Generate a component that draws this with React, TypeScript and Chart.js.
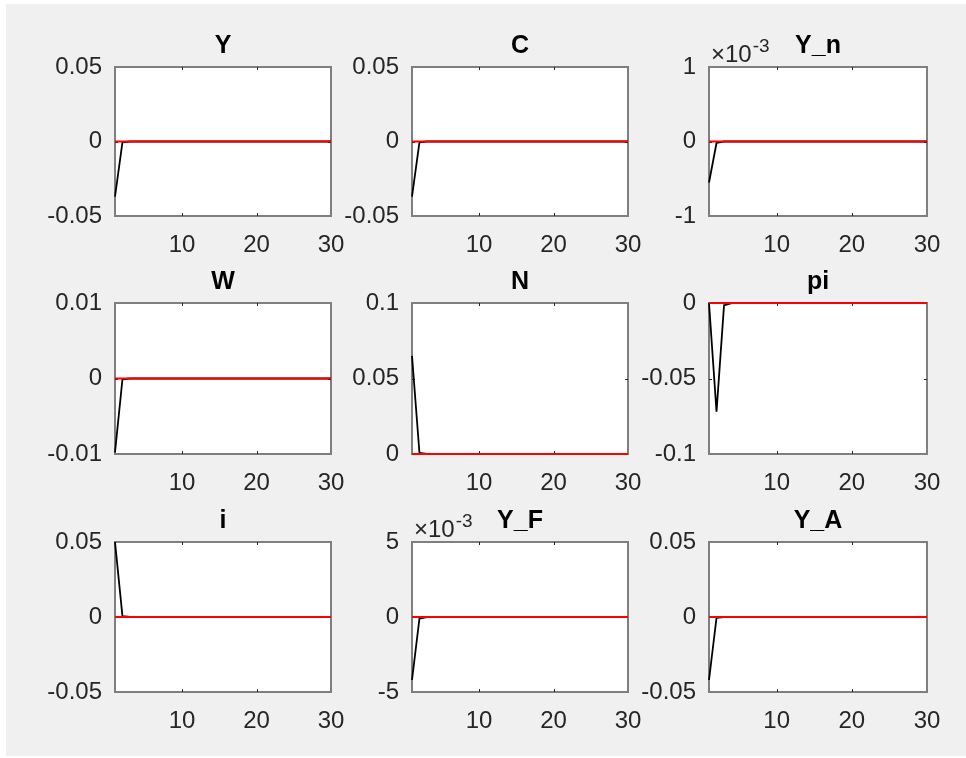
import React, { useEffect, useRef } from "react";
import { Chart, registerables } from "chart.js";

Chart.register(...registerables);

// ---- data ----
const periods = [1, 2, 3, 4, 5, 6, 7, 8, 9, 10, 11, 12, 13, 14, 15, 16, 17, 18, 19, 20, 21, 22, 23, 24, 25, 26, 27, 28, 29, 30];
const steadyState = [0, 0, 0, 0, 0, 0, 0, 0, 0, 0, 0, 0, 0, 0, 0, 0, 0, 0, 0, 0, 0, 0, 0, 0, 0, 0, 0, 0, 0, 0];

const titles = ["Y", "C", "Y_n", "W", "N", "pi", "i", "Y_F", "Y_A"];

const irfY = [-0.037, -0.0005, 0, 0, 0, 0, 0, 0, 0, 0, 0, 0, 0, 0, 0, 0, 0, 0, 0, 0, 0, 0, 0, 0, 0, 0, 0, 0, 0, 0];
const irfC = [-0.037, -0.0005, 0, 0, 0, 0, 0, 0, 0, 0, 0, 0, 0, 0, 0, 0, 0, 0, 0, 0, 0, 0, 0, 0, 0, 0, 0, 0, 0, 0];
const irfYn = [-0.00055, -0.00002, 0, 0, 0, 0, 0, 0, 0, 0, 0, 0, 0, 0, 0, 0, 0, 0, 0, 0, 0, 0, 0, 0, 0, 0, 0, 0, 0, 0];
const irfW = [-0.0098, -0.0001, 0, 0, 0, 0, 0, 0, 0, 0, 0, 0, 0, 0, 0, 0, 0, 0, 0, 0, 0, 0, 0, 0, 0, 0, 0, 0, 0, 0];
const irfN = [0.065, 0.0008, 0.0001, 0, 0, 0, 0, 0, 0, 0, 0, 0, 0, 0, 0, 0, 0, 0, 0, 0, 0, 0, 0, 0, 0, 0, 0, 0, 0, 0];
const irfPi = [0, -0.072, -0.0015, -0.0001, 0, 0, 0, 0, 0, 0, 0, 0, 0, 0, 0, 0, 0, 0, 0, 0, 0, 0, 0, 0, 0, 0, 0, 0, 0, 0];
const irfI = [0.05, 0.0006, 0, 0, 0, 0, 0, 0, 0, 0, 0, 0, 0, 0, 0, 0, 0, 0, 0, 0, 0, 0, 0, 0, 0, 0, 0, 0, 0, 0];
const irfYF = [-0.0042, -0.0001, 0, 0, 0, 0, 0, 0, 0, 0, 0, 0, 0, 0, 0, 0, 0, 0, 0, 0, 0, 0, 0, 0, 0, 0, 0, 0, 0, 0];
const irfYA = [-0.042, -0.0005, 0, 0, 0, 0, 0, 0, 0, 0, 0, 0, 0, 0, 0, 0, 0, 0, 0, 0, 0, 0, 0, 0, 0, 0, 0, 0, 0, 0];

const irfs = [irfY, irfC, irfYn, irfW, irfN, irfPi, irfI, irfYF, irfYA];

const xTickValues = [10, 20, 30];
const xTickLabels = ["10", "20", "30"];

const yTickValues = [
  [-0.05, 0, 0.05],
  [-0.05, 0, 0.05],
  [-0.001, 0, 0.001],
  [-0.01, 0, 0.01],
  [0, 0.05, 0.1],
  [-0.1, -0.05, 0],
  [-0.05, 0, 0.05],
  [-0.005, 0, 0.005],
  [-0.05, 0, 0.05],
];
const yTickLabels = [
  ["-0.05", "0", "0.05"],
  ["-0.05", "0", "0.05"],
  ["-1", "0", "1"],
  ["-0.01", "0", "0.01"],
  ["0", "0.05", "0.1"],
  ["-0.1", "-0.05", "0"],
  ["-0.05", "0", "0.05"],
  ["-5", "0", "5"],
  ["-0.05", "0", "0.05"],
];
const exponentLabels = ["", "", "-3", "", "", "", "", "-3", ""];

// ---- layout ----
const colLeft = [115, 412, 709];
const colRight = [331, 628, 927];
const rowTop = [67, 303, 542];
const rowBottom = [216, 454, 692];
const PAD_L = 110;
const PAD_T = 60;
const PAD_R = 30;
const PAD_B = 50;

const FONT = "'Liberation Sans', Arial, Helvetica, sans-serif";
const TEXT_COLOR = "#262626";

const matlabPlugin = {
  id: "matlabAxes",
  beforeDraw(chart: any) {
    const { ctx, chartArea: a } = chart;
    ctx.save();
    ctx.fillStyle = "#ffffff";
    ctx.fillRect(a.left, a.top, a.right - a.left, a.bottom - a.top);
    ctx.restore();
  },
  beforeDatasetsDraw(chart: any) {
    const { ctx, chartArea: a, scales } = chart;
    ctx.save();
    ctx.strokeStyle = "#7f7f7f";
    ctx.lineWidth = 2;
    ctx.strokeRect(a.left, a.top, a.right - a.left, a.bottom - a.top);
    ctx.strokeStyle = "#262626";
    ctx.lineWidth = 1;
    const tl = 3;
    scales.x.ticks.forEach((t: any) => {
      const px = Math.round(scales.x.getPixelForValue(t.value)) + 0.5;
      if (px <= a.left + 1 || px >= a.right - 1) return;
      ctx.beginPath();
      ctx.moveTo(px, a.bottom);
      ctx.lineTo(px, a.bottom - tl);
      ctx.moveTo(px, a.top);
      ctx.lineTo(px, a.top + tl);
      ctx.stroke();
    });
    scales.y.ticks.forEach((t: any) => {
      const py = Math.round(scales.y.getPixelForValue(t.value)) + 0.5;
      if (py <= a.top + 1 || py >= a.bottom - 1) return;
      ctx.beginPath();
      ctx.moveTo(a.left, py);
      ctx.lineTo(a.left + tl, py);
      ctx.moveTo(a.right, py);
      ctx.lineTo(a.right - tl, py);
      ctx.stroke();
    });
    ctx.restore();
  },
  afterDraw(chart: any) {
    const { ctx, chartArea: a } = chart;
    const opts = chart.options.plugins.matlabAxes || {};
    ctx.save();
    ctx.fillStyle = "#000000";
    ctx.font = `bold 25px ${FONT}`;
    ctx.textAlign = "center";
    ctx.textBaseline = "alphabetic";
    ctx.fillText(opts.title || "", (a.left + a.right) / 2, a.top - 14);
    if (opts.exponent) {
      ctx.fillStyle = TEXT_COLOR;
      ctx.textAlign = "left";
      ctx.font = `24px ${FONT}`;
      const base = "\u00d710";
      ctx.fillText(base, a.left + 2, a.top - 5);
      const w = ctx.measureText(base).width;
      ctx.font = `19px ${FONT}`;
      ctx.fillText(opts.exponent, a.left + 2 + w + 1, a.top - 15);
    }
    ctx.restore();
  },
};

function Panel({ idx }: { idx: number }) {
  const ref = useRef<HTMLCanvasElement | null>(null);
  const col = idx % 3;
  const row = Math.floor(idx / 3);
  const boxW = colRight[col] - colLeft[col];
  const boxH = rowBottom[row] - rowTop[row];
  const width = boxW + PAD_L + PAD_R;
  const height = boxH + PAD_T + PAD_B;

  useEffect(() => {
    const canvas = ref.current;
    if (!canvas) return;
    const yVals = yTickValues[idx];
    const yLabs = yTickLabels[idx];
    const chart = new Chart(canvas, {
      type: "line",
      data: {
        datasets: [
          {
            data: periods.map((p, i) => ({ x: p, y: steadyState[i] })),
            borderColor: "#ff0000",
            borderWidth: 2.2,
            pointRadius: 0,
            tension: 0,
            clip: false as any,
          },
          {
            data: periods.map((p, i) => ({ x: p, y: irfs[idx][i] })),
            borderColor: "#000000",
            borderWidth: 1.8,
            pointRadius: 0,
            tension: 0,
            clip: false as any,
          },
        ],
      },
      options: {
        responsive: false,
        animation: false,
        events: [],
        layout: { padding: { left: 0, top: PAD_T, right: PAD_R, bottom: 0 } },
        plugins: {
          legend: { display: false },
          tooltip: { enabled: false },
          title: { display: false },
          matlabAxes: { title: titles[idx], exponent: exponentLabels[idx] },
        } as any,
        scales: {
          x: {
            type: "linear",
            min: 1,
            max: 30,
            grid: { display: false, drawTicks: false },
            border: { display: false },
            afterBuildTicks: (scale: any) => {
              scale.ticks = xTickValues.map((v) => ({ value: v }));
            },
            afterFit: (scale: any) => {
              scale.height = PAD_B;
            },
            ticks: {
              autoSkip: false,
              maxRotation: 0,
              padding: 15,
              color: TEXT_COLOR,
              font: { family: FONT, size: 24 },
              callback: (_v: any, i: number) => xTickLabels[i],
            },
          },
          y: {
            type: "linear",
            min: yVals[0],
            max: yVals[yVals.length - 1],
            grid: { display: false, drawTicks: false },
            border: { display: false },
            afterBuildTicks: (scale: any) => {
              scale.ticks = yVals.map((v) => ({ value: v }));
            },
            afterFit: (scale: any) => {
              scale.width = PAD_L;
            },
            ticks: {
              autoSkip: false,
              padding: 13,
              color: TEXT_COLOR,
              font: { family: FONT, size: 24 },
              callback: (_v: any, i: number) => yLabs[i],
            },
          },
        },
      },
      plugins: [matlabPlugin],
    });
    return () => chart.destroy();
  }, [idx]);

  return (
    <canvas
      ref={ref}
      width={width}
      height={height}
      style={{
        position: "absolute",
        left: colLeft[col] - PAD_L,
        top: rowTop[row] - PAD_T,
        width,
        height,
      }}
    />
  );
}

export default function App() {
  return (
    <div
      style={{
        position: "fixed",
        left: 0,
        top: 0,
        width: 966,
        height: 758,
        background: "#ffffff",
        overflow: "hidden",
      }}
    >
      <div
        style={{
          position: "absolute",
          left: 6,
          top: 4,
          width: 960,
          height: 752,
          background: "#f0f0f0",
        }}
      />
      {titles.map((_, i) => (
        <Panel key={i} idx={i} />
      ))}
    </div>
  );
}
